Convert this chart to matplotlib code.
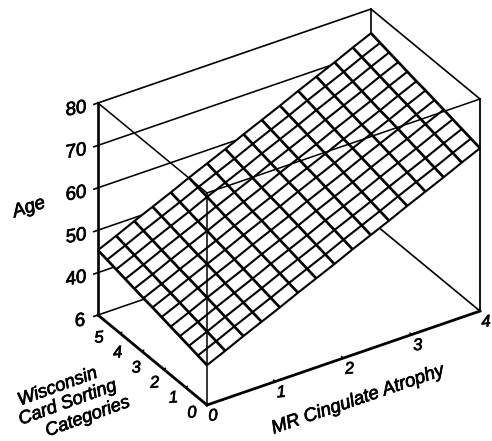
import numpy as np
import matplotlib
matplotlib.use("Agg")
import matplotlib.pyplot as plt
import matplotlib.patheffects as pe
from mpl_toolkits.mplot3d import proj3d

plt.rcParams['font.family'] = ['Liberation Sans', 'DejaVu Sans']

# ---- data ----
atrophy_nodes = [0, 0.267, 0.533, 0.8, 1.067, 1.333, 1.6, 1.867, 2.133, 2.4, 2.667, 2.933, 3.2, 3.467, 3.733, 4]
wcst_nodes = [0, 0.417, 0.833, 1.25, 1.667, 2.083, 2.5, 2.917, 3.333, 3.75, 4.167, 4.583, 5]
age_surface = [
    [39.4,41.3,43.3,45.2,47.1,49.1,51.0,52.9,54.9,56.8,58.7,60.7,62.6,64.5,66.5,68.4],
    [39.9,41.8,43.8,45.7,47.6,49.6,51.5,53.4,55.4,57.3,59.2,61.2,63.1,65.0,67.0,68.9],
    [40.4,42.3,44.3,46.2,48.1,50.1,52.0,53.9,55.9,57.8,59.7,61.7,63.6,65.5,67.5,69.4],
    [40.9,42.8,44.8,46.7,48.6,50.6,52.5,54.4,56.4,58.3,60.2,62.2,64.1,66.0,68.0,69.9],
    [41.4,43.3,45.3,47.2,49.1,51.1,53.0,54.9,56.9,58.8,60.7,62.7,64.6,66.5,68.5,70.4],
    [41.9,43.8,45.8,47.7,49.6,51.6,53.5,55.4,57.4,59.3,61.2,63.2,65.1,67.0,69.0,70.9],
    [42.4,44.3,46.3,48.2,50.1,52.1,54.0,55.9,57.9,59.8,61.7,63.7,65.6,67.5,69.5,71.4],
    [42.8,44.7,46.7,48.6,50.5,52.5,54.4,56.3,58.3,60.2,62.1,64.1,66.0,67.9,69.9,71.8],
    [43.3,45.2,47.2,49.1,51.0,53.0,54.9,56.8,58.8,60.7,62.6,64.6,66.5,68.4,70.4,72.3],
    [43.8,45.7,47.7,49.6,51.5,53.5,55.4,57.3,59.3,61.2,63.1,65.1,67.0,68.9,70.9,72.8],
    [44.3,46.2,48.2,50.1,52.0,54.0,55.9,57.8,59.8,61.7,63.6,65.6,67.5,69.4,71.4,73.3],
    [44.8,46.7,48.7,50.6,52.5,54.5,56.4,58.3,60.3,62.2,64.1,66.1,68.0,69.9,71.9,73.8],
    [45.3,47.2,49.2,51.1,53.0,55.0,56.9,58.8,60.8,62.7,64.6,66.6,68.5,70.4,72.4,74.3],
]
x_ticks = [0, 1, 2, 3, 4]
y_ticks = [0, 1, 2, 3, 4, 5]
z_ticks = [30, 40, 50, 60, 70, 80]
z_tick_labels = ['6', '40', '50', '60', '70', '80']

W, H = 492, 441
X0, X1, Y0, Y1, Z0, Z1 = 0, 4, 0, 5, 30, 80
BOX = (325, 201, 250.6)
S = 492

fig = plt.figure(figsize=(W / 100, H / 100), dpi=100, facecolor='white')
ax = fig.add_axes([0, 0, S / W, S / H], projection='3d', computed_zorder=False, proj_type='ortho')
ax.set_xlim(X0, X1, view_margin=0)
ax.set_ylim(Y0, Y1, view_margin=0)
ax.set_zlim(Z0, Z1, view_margin=0)
ax.view_init(elev=32.2, azim=-122.85, roll=0)
ax.set_box_aspect(BOX)
ax.set_axis_off()
ax.patch.set_alpha(0)


def px(x, y, z):
    a, b, _ = proj3d.proj_transform(x, y, z, ax.get_proj())
    return ax.transData.transform((a, b))


# scale and place the box so that it sits where the reference has it
ax.apply_aspect()
d = px(X1, Y0, Z0) - px(X0, Y0, Z0)
ax.set_box_aspect(BOX, zoom=np.hypot(273, 94) / np.hypot(*d))
p = px(X0, Y0, Z0)
l, b = (207 - p[0]) / W, (H - 405 - p[1]) / H
ax.set_position([l, b, S / W, S / H])
ax.apply_aspect()

k = 'black'
# back walls (hidden by the surface)
ax.plot([X0, X1], [Y1, Y1], [Z1, Z1], color=k, lw=1.2, zorder=1)
ax.plot([X1, X1], [Y1, Y1], [Z0, Z1], color=k, lw=1.2, zorder=1)
ax.plot([X1, X1], [Y1, Y0], [Z1, Z1], color=k, lw=1.2, zorder=1)
ax.plot([X1, X1], [Y1, Y0], [Z0, Z0], color=k, lw=1.2, zorder=1)
for z in z_ticks[:-1]:
    ax.plot([X0, X1], [Y1, Y1], [z, z], color=k, lw=1.15, zorder=1)

# surface
xx, yy = np.meshgrid(atrophy_nodes, wcst_nodes)
zz = np.array(age_surface)
ax.plot_surface(xx, yy, zz, color='white', shade=False, rstride=1, cstride=1,
                linewidth=0, antialiased=False, zorder=2)
ax.plot_wireframe(xx, yy, zz, rstride=1, cstride=0, color=k, linewidth=1.5, zorder=3)
ax.plot_wireframe(xx, yy, zz, rstride=0, cstride=1, color=k, linewidth=1.95, zorder=3)

# front edges
ax.plot([X0, X0], [Y0, Y0], [Z0, Z1], color=k, lw=1.1, zorder=4)
ax.plot([X0, X0], [Y1, Y0], [Z1, Z1], color=k, lw=1.1, zorder=4)
ax.plot([X0, X1], [Y0, Y0], [Z1, Z1], color=k, lw=1.1, zorder=4)
ax.plot([X1, X1], [Y0, Y0], [Z0, Z1], color=k, lw=1.3, zorder=4)
ax.plot([X0, X0], [Y1, Y1], [Z0, Z1], color=k, lw=1.9, zorder=4)
ax.plot([X0, X1], [Y0, Y0], [Z0, Z0], color=k, lw=2.0, zorder=4)
ax.plot([X0, X0], [Y0, Y1], [Z0, Z0], color=k, lw=2.0, zorder=4)

# ticks
for v in x_ticks[1:-1]:
    ax.plot([v, v], [Y0, Y0 + 0.08], [Z0, Z0], color=k, lw=1.0, zorder=4)
for v in y_ticks[1:-1]:
    ax.plot([X0, X0 + 0.03], [v, v], [Z0, Z0], color=k, lw=1.0, zorder=4)
for v in z_ticks:
    ax.plot([X0 - 0.06, X0], [Y1, Y1], [v, v], color=k, lw=1.2, zorder=4)

heavy = [pe.withStroke(linewidth=0.5, foreground=k)]


def label(s, x, y, z, dx, dy, size, rot):
    pp = proj3d.proj_transform(x, y, z, ax.get_proj())[:2]
    ax.annotate(s, xy=pp, xycoords='data', xytext=(dx, -dy), textcoords='offset pixels',
                ha='center', va='center', fontsize=size, style='italic', rotation=rot,
                annotation_clip=False, color=k, path_effects=heavy)


for z, s in zip(z_ticks, z_tick_labels):
    label(s, X0, Y1, z, -22 if s != '6' else -18, 6.5, 13.5, 10)
for x in x_ticks:
    label(str(x), x, Y0, Z0, 6, 11, 12, 5)
for y in y_ticks:
    label(str(y), X0, y, Z0, -15 + 3.2 * y, 8 + 3 * y, 12, 5)


def title(s, cx, cy, rot, size=13.2):
    fig.text(cx / W, 1 - cy / H, s, ha='center', va='center', rotation=rot,
             fontsize=size, style='italic', color=k, rotation_mode='anchor', path_effects=heavy)


title('Age', 29, 208, 18, 13.5)
title('Wisconsin', 58, 387, 20)
title('Card Sorting', 68, 403, 20)
title('Categories', 88, 417, 20)
title('MR Cingulate Atrophy', 358, 400, 19, 13.4)

fig.savefig('out.png', dpi=100)
